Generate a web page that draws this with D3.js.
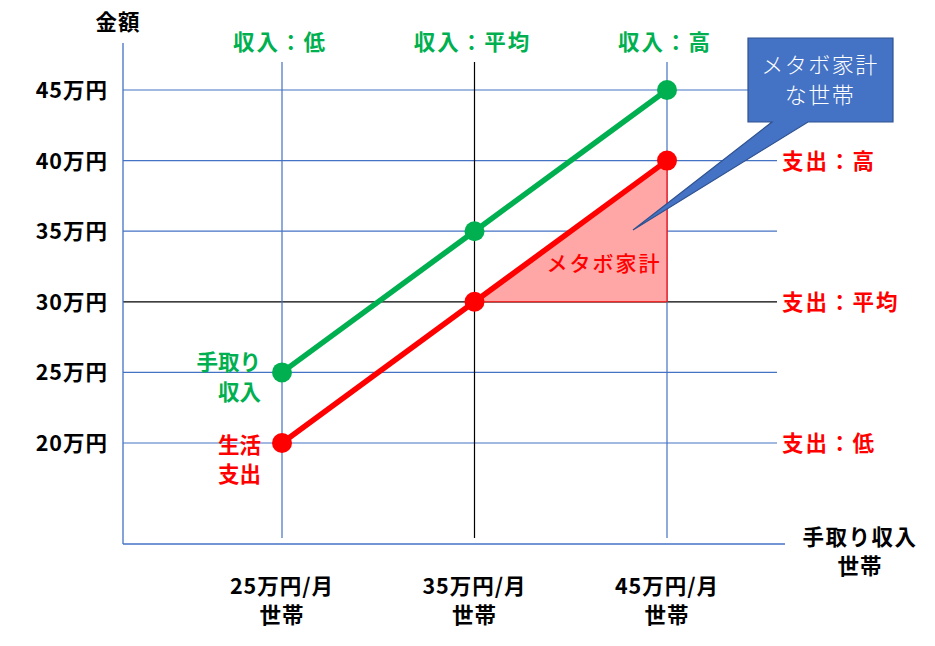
<!DOCTYPE html>
<html><head><meta charset="utf-8">
<script src="https://cdn.jsdelivr.net/npm/d3@7"></script>
<style>
body{margin:0;background:#fff;}
text{font-family:"Noto Sans CJK JP","Noto Sans",sans-serif;}
</style></head>
<body><svg id="c" width="935" height="646"></svg>
<script>
// ---- data ----
const incomeCats = [25, 35, 45];              // 手取り収入 (万円/月)
const incomeValues = [25, 35, 45];            // 手取り収入 series
const expenseValues = [20, 30, 40];           // 生活支出 series
const yTicks = [20, 25, 30, 35, 40, 45];
const yTickLabels = ["20万円","25万円","30万円","35万円","40万円","45万円"];
const xTickLabels = ["25万円/月","35万円/月","45万円/月"];
const topLabels = ["収入：低","収入：平均","収入：高"];
const rightLabels = [{v:40,t:"支出：高"},{v:30,t:"支出：平均"},{v:20,t:"支出：低"}];
const metaboTri = [[35,30],[45,40],[45,30]];

const svg = d3.select("#c");
const x = d3.scaleLinear().domain([25,45]).range([282,667]);
const y = d3.scaleLinear().domain([20,45]).range([443,90]);
const GREEN="#00b050", RED="#ff0000", GRID="#4472c4";
const x0 = 123, xEnd = 777, axisY = 544;
const FS = 21.5;

// horizontal grid
svg.append("g").selectAll("line").data(yTicks).join("line")
  .attr("x1",x0).attr("x2",xEnd).attr("y1",d=>y(d)).attr("y2",d=>y(d))
  .attr("stroke",d=>d===30?"#000":GRID).attr("stroke-width",1.2);
// vertical grid
svg.append("g").selectAll("line").data(incomeCats).join("line")
  .attr("x1",d=>x(d)).attr("x2",d=>x(d)).attr("y1",62).attr("y2",538)
  .attr("stroke",d=>d===35?"#000":GRID).attr("stroke-width",1.2);
// axes lines
svg.append("line").attr("x1",x0).attr("x2",x0).attr("y1",43).attr("y2",axisY).attr("stroke",GRID).attr("stroke-width",1.3);
svg.append("line").attr("x1",x0).attr("x2",785).attr("y1",axisY).attr("y2",axisY).attr("stroke",GRID).attr("stroke-width",1.3);

// metabo triangle
svg.append("path").attr("d",d3.line().x(d=>x(d[0])).y(d=>y(d[1]))(metaboTri)+"Z")
  .attr("fill","#ffa7a7").attr("stroke","none");
svg.append("line").attr("x1",x(45)).attr("x2",x(45)).attr("y1",y(40)).attr("y2",y(30)).attr("stroke",RED).attr("stroke-width",1.2);
svg.append("line").attr("x1",x(35)).attr("x2",x(45)).attr("y1",y(30)).attr("y2",y(30)).attr("stroke",RED).attr("stroke-width",1);
svg.append("text").attr("x",604).attr("y",271).attr("text-anchor","middle")
  .attr("font-size",21).attr("font-weight",500).attr("letter-spacing",2).attr("fill",RED).text("メタボ家計");

// lines
const line = d3.line().x(d=>x(d[0])).y(d=>y(d[1]));
function series(vals,color){
  const pts = incomeCats.map((c,i)=>[c,vals[i]]);
  svg.append("path").attr("d",line(pts)).attr("fill","none").attr("stroke",color).attr("stroke-width",5.5);
  svg.append("g").selectAll("circle").data(pts).join("circle")
    .attr("cx",d=>x(d[0])).attr("cy",d=>y(d[1])).attr("r",10).attr("fill",color);
}
series(incomeValues,GREEN);
series(expenseValues,RED);

// callout
const cx1=748,cx2=893,cy1=38,cy2=122;
svg.append("path").attr("d",`M${cx1},${cy1}H${cx2}V${cy2}H808L633,230L772,${cy2}H${cx1}Z`)
  .attr("fill","#4472c4").attr("stroke","#2f528f").attr("stroke-width",1.2);
svg.append("text").attr("x",820).attr("y",73).attr("text-anchor","middle").attr("font-size",22).attr("font-weight",300).attr("fill","#fff").attr("letter-spacing",1.5).text("メタボ家計");
svg.append("text").attr("x",820).attr("y",103).attr("text-anchor","middle").attr("font-size",22).attr("font-weight",300).attr("fill","#fff").attr("letter-spacing",1.5).text("な世帯");

// y tick labels
svg.append("g").selectAll("text").data(yTicks).join("text")
  .attr("x",108).attr("y",d=>y(d)+8).attr("text-anchor","end")
  .attr("font-size",FS).attr("font-weight",700).attr("fill","#000").attr("letter-spacing",1)
  .text((d,i)=>yTickLabels[i]);
svg.append("text").attr("x",118).attr("y",30).attr("text-anchor","middle").attr("font-size",FS).attr("font-weight",700).attr("letter-spacing",1).text("金額");

// x tick labels
const xl = svg.append("g").selectAll("g").data(incomeCats).join("g");
xl.append("text").attr("x",d=>x(d)).attr("y",594).attr("text-anchor","middle").attr("font-size",FS).attr("font-weight",700).attr("letter-spacing",1).text((d,i)=>xTickLabels[i]);
xl.append("text").attr("x",d=>x(d)).attr("y",623).attr("text-anchor","middle").attr("font-size",FS).attr("font-weight",700).attr("letter-spacing",1).text("世帯");
svg.append("text").attr("x",860).attr("y",545).attr("text-anchor","middle").attr("font-size",FS).attr("font-weight",700).attr("letter-spacing",1.5).text("手取り収入");
svg.append("text").attr("x",860).attr("y",574).attr("text-anchor","middle").attr("font-size",FS).attr("font-weight",700).attr("letter-spacing",1).text("世帯");

// top labels
svg.append("g").selectAll("text").data(incomeCats).join("text")
  .attr("x",d=>x(d)-2).attr("y",50).attr("text-anchor","middle").attr("font-size",FS).attr("font-weight",700).attr("letter-spacing",2).attr("fill",GREEN)
  .text((d,i)=>topLabels[i]);
// right labels
svg.append("g").selectAll("text").data(rightLabels).join("text")
  .attr("x",782).attr("y",d=>y(d.v)+8).attr("font-size",FS).attr("font-weight",700).attr("letter-spacing",2).attr("fill",RED)
  .text(d=>d.t);

// series labels
svg.append("text").attr("x",261).attr("y",370).attr("text-anchor","end").attr("font-size",FS).attr("font-weight",700).attr("fill",GREEN).text("手取り");
svg.append("text").attr("x",261).attr("y",400).attr("text-anchor","end").attr("font-size",FS).attr("font-weight",700).attr("fill",GREEN).text("収入");
svg.append("text").attr("x",261).attr("y",453).attr("text-anchor","end").attr("font-size",FS).attr("font-weight",700).attr("fill",RED).text("生活");
svg.append("text").attr("x",261).attr("y",482).attr("text-anchor","end").attr("font-size",FS).attr("font-weight",700).attr("fill",RED).text("支出");
</script></body></html>
